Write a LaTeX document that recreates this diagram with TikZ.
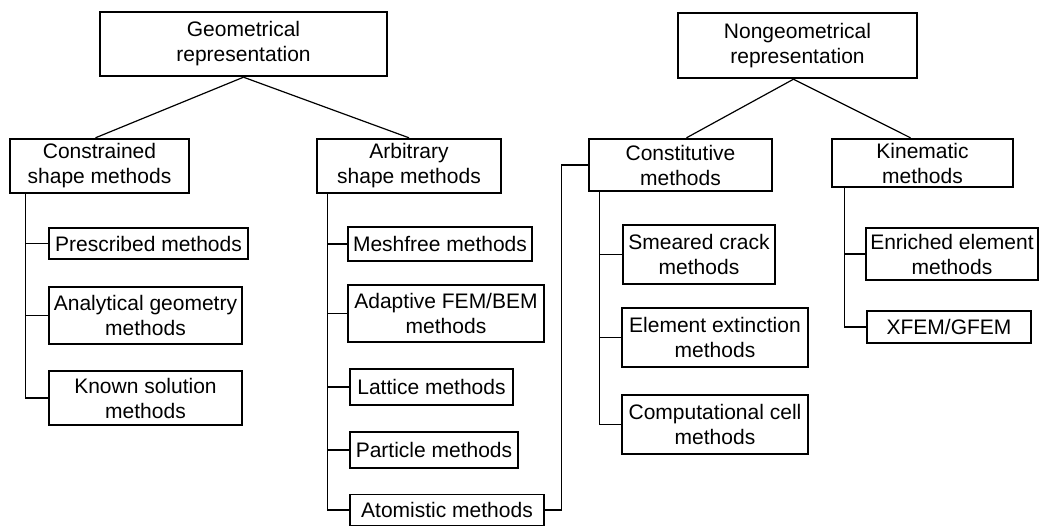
\documentclass[tikz,border=0pt]{standalone}
\usepackage{fontspec}
\setmainfont{Liberation Sans}
\usetikzlibrary{positioning}

\begin{document}
\begin{tikzpicture}[x=0.5pt, y=-0.5pt, line width=0.6pt,
    every node/.style={align=center, inner sep=0pt, font=\fontsize{10.5}{12.5}\selectfont},
    mainbox/.style={draw, line width=1.2pt},
    leafbox/.style={draw, line width=0.6pt}]
      \useasboundingbox (0,0) rectangle (1040,526);
      \node[mainbox, minimum width=143.5pt, minimum height=32pt] (geo) at (243.5,44) {Geometrical\\representation};
      \node[mainbox, minimum width=119.5pt, minimum height=32.5pt] (nongeo) at (797.5,45.5) {Nongeometrical\\representation};
      \node[mainbox, minimum width=89.5pt, minimum height=27pt] (constr) at (99.5,166) {Constrained\\shape methods};
      \node[mainbox, minimum width=92pt, minimum height=27pt] (arb) at (409,166) {Arbitrary\\shape methods};
      \node[mainbox, minimum width=91.5pt, minimum height=26pt] (const) at (680.5,165) {Constitutive\\methods};
      \node[mainbox, minimum width=90.5pt, minimum height=24pt] (kin) at (922.5,163) {Kinematic\\methods};
      \node[leafbox, minimum width=99.5pt, minimum height=15.5pt] (presc) at (148.5,243.5) {Prescribed methods};
      \node[leafbox, minimum width=96.5pt, minimum height=28.5pt] (analyt) at (145.5,315.5) {Analytical geometry\\methods};
      \node[leafbox, minimum width=96.5pt, minimum height=27pt] (known) at (145.5,398) {Known solution\\methods};
      \node[leafbox, minimum width=92pt, minimum height=17pt] (mesh) at (440,244) {Meshfree methods};
      \node[leafbox, minimum width=98pt, minimum height=28.5pt] (adapt) at (446,313.5) {Adaptive FEM/BEM\\methods};
      \node[leafbox, minimum width=81.5pt, minimum height=18pt] (lattice) at (431.5,387) {Lattice methods};
      \node[leafbox, minimum width=84pt, minimum height=18pt] (particle) at (434,450) {Particle methods};
      \node[leafbox, minimum width=97pt, minimum height=15.5pt] (atom) at (447,510) {Atomistic methods};
      \node[leafbox, minimum width=76pt, minimum height=29.5pt] (smeared) at (699,254.5) {Smeared crack\\methods};
      \node[leafbox, minimum width=93pt, minimum height=29.5pt] (element) at (715,337.5) {Element extinction\\methods};
      \node[leafbox, minimum width=93pt, minimum height=29.5pt] (comput) at (715,424.5) {Computational cell\\methods};
      \node[leafbox, minimum width=86pt, minimum height=26pt] (enriched) at (952,254) {Enriched element\\methods};
      \node[leafbox, minimum width=82pt, minimum height=16pt] (xfem) at (949,327) {XFEM/GFEM};
      \draw (geo.south) -- ([xshift=-2pt]constr.north);
      \draw (geo.south) -- (arb.north);
      \draw ([xshift=-2pt]nongeo.south) -- ([xshift=3pt]const.north);
      \draw ([xshift=-2pt]nongeo.south) -- ([xshift=-6pt]kin.north);
      \foreach \leaf in {presc,analyt,known}
        \draw ([xshift=8.5pt]constr.south west) |- (\leaf.west);
      \foreach \leaf in {mesh,adapt,lattice,particle,atom}
        \draw ([xshift=6pt]arb.south west) |- (\leaf.west);
      \foreach \leaf in {smeared,element,comput}
        \draw ([xshift=6pt]const.south west) |- (\leaf.west);
      \foreach \leaf in {enriched,xfem}
        \draw ([xshift=7pt]kin.south west) |- (\leaf.west);
      \draw (atom.east) -| ([xshift=-13pt]const.west) -- (const.west);
    \end{tikzpicture}
\end{document}
